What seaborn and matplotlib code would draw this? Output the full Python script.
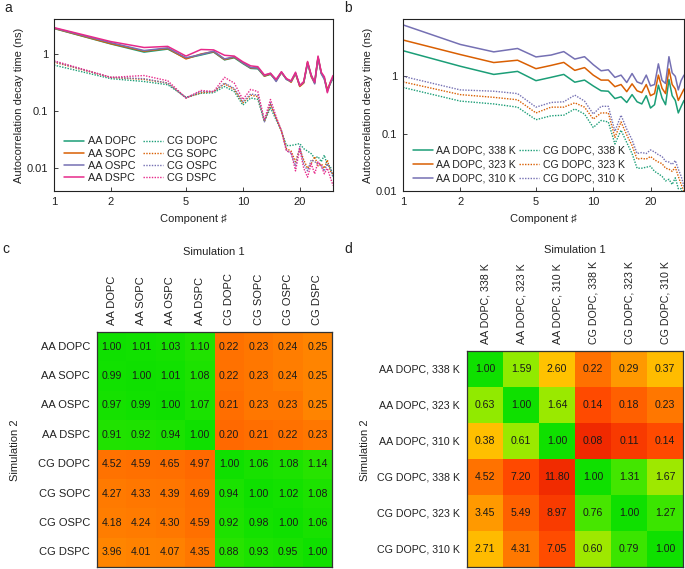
import numpy as np
import pandas as pd
import matplotlib
matplotlib.use("Agg")
import matplotlib.pyplot as plt
from matplotlib.colors import LinearSegmentedColormap
from matplotlib.ticker import NullLocator
import seaborn as sns

# ---------------- data ----------------
components = list(range(1, 31))

aa_dopc = [2.80, 1.50, 1.08, 1.22, 0.84, 0.96, 1.08, 0.79, 0.86, 0.68, 0.56, 0.55, 0.41, 0.44, 0.35,
           0.48, 0.36, 0.33, 0.46, 0.28, 0.32, 0.70, 0.42, 0.32, 0.88, 0.46, 0.38, 0.23, 0.30, 0.38]
aa_sopc = [2.82, 1.52, 1.12, 1.25, 0.82, 1.00, 1.10, 0.80, 0.88, 0.70, 0.57, 0.57, 0.41, 0.45, 0.34,
           0.47, 0.37, 0.32, 0.45, 0.27, 0.31, 0.72, 0.40, 0.31, 0.86, 0.47, 0.37, 0.24, 0.31, 0.39]
aa_ospc = [2.85, 1.58, 1.15, 1.28, 0.86, 0.98, 1.12, 0.82, 0.90, 0.70, 0.58, 0.57, 0.42, 0.46, 0.33,
           0.48, 0.36, 0.33, 0.46, 0.28, 0.32, 0.69, 0.42, 0.30, 0.87, 0.45, 0.36, 0.22, 0.31, 0.38]
aa_dspc = [2.90, 1.65, 1.30, 1.36, 0.92, 1.20, 1.18, 0.95, 0.92, 0.73, 0.62, 0.60, 0.43, 0.46, 0.36,
           0.49, 0.37, 0.34, 0.48, 0.28, 0.33, 0.74, 0.43, 0.32, 0.92, 0.48, 0.40, 0.21, 0.32, 0.42]

cg_dopc = [0.64, 0.37, 0.33, 0.29, 0.175, 0.205, 0.21, 0.27, 0.22, 0.128, 0.17, 0.16, 0.066, 0.115, 0.07,
           0.045, 0.025, 0.025, 0.026, 0.027, 0.022, 0.020, 0.018, 0.015, 0.016, 0.013, 0.017, 0.011, 0.011, 0.007]
cg_sopc = [0.72, 0.39, 0.36, 0.31, 0.17, 0.21, 0.22, 0.30, 0.24, 0.14, 0.19, 0.18, 0.066, 0.13, 0.075,
           0.045, 0.022, 0.020, 0.013, 0.022, 0.014, 0.010, 0.012, 0.016, 0.011, 0.012, 0.010, 0.014, 0.009, 0.008]
cg_ospc = [0.74, 0.39, 0.37, 0.31, 0.17, 0.22, 0.22, 0.31, 0.25, 0.145, 0.20, 0.19, 0.065, 0.14, 0.075,
           0.046, 0.021, 0.018, 0.011, 0.024, 0.012, 0.009, 0.014, 0.013, 0.012, 0.011, 0.009, 0.012, 0.010, 0.007]
cg_dspc = [0.76, 0.39, 0.42, 0.34, 0.17, 0.23, 0.22, 0.39, 0.31, 0.16, 0.24, 0.22, 0.07, 0.16, 0.08,
           0.045, 0.020, 0.019, 0.009, 0.022, 0.010, 0.007, 0.012, 0.008, 0.013, 0.011, 0.008, 0.010, 0.007, 0.005]

aa_338 = aa_dopc
aa_323 = [4.3, 2.4, 1.74, 1.91, 1.36, 1.55, 1.75, 1.27, 1.42, 1.05, 0.86, 0.86, 0.66, 0.72, 0.54,
          0.74, 0.56, 0.52, 0.72, 0.46, 0.50, 1.05, 0.62, 0.50, 1.35, 0.72, 0.60, 0.38, 0.48, 0.60]
aa_310 = [7.9, 3.6, 2.67, 3.06, 2.18, 2.35, 2.70, 2.00, 2.20, 1.60, 1.25, 1.30, 0.96, 1.05, 0.78,
          1.12, 0.80, 0.74, 1.05, 0.68, 0.72, 1.65, 0.85, 0.75, 2.20, 1.15, 1.00, 0.58, 0.85, 1.05]
cg_338 = cg_dopc
cg_323 = [0.80, 0.48, 0.43, 0.39, 0.23, 0.29, 0.29, 0.345, 0.29, 0.18, 0.23, 0.23, 0.086, 0.16, 0.095,
          0.062, 0.036, 0.037, 0.036, 0.040, 0.035, 0.032, 0.030, 0.025, 0.024, 0.022, 0.026, 0.018, 0.013, 0.010]
cg_310 = [1.00, 0.58, 0.55, 0.50, 0.29, 0.35, 0.36, 0.47, 0.37, 0.22, 0.30, 0.30, 0.11, 0.21, 0.12,
          0.078, 0.045, 0.047, 0.045, 0.052, 0.048, 0.043, 0.040, 0.033, 0.032, 0.029, 0.034, 0.024, 0.018, 0.012]

labels_c = ["AA DOPC", "AA SOPC", "AA OSPC", "AA DSPC", "CG DOPC", "CG SOPC", "CG OSPC", "CG DSPC"]
matrix_c = [
    [1.00, 1.01, 1.03, 1.10, 0.22, 0.23, 0.24, 0.25],
    [0.99, 1.00, 1.01, 1.08, 0.22, 0.23, 0.24, 0.25],
    [0.97, 0.99, 1.00, 1.07, 0.21, 0.23, 0.23, 0.25],
    [0.91, 0.92, 0.94, 1.00, 0.20, 0.21, 0.22, 0.23],
    [4.52, 4.59, 4.65, 4.97, 1.00, 1.06, 1.08, 1.14],
    [4.27, 4.33, 4.39, 4.69, 0.94, 1.00, 1.02, 1.08],
    [4.18, 4.24, 4.30, 4.59, 0.92, 0.98, 1.00, 1.06],
    [3.96, 4.01, 4.07, 4.35, 0.88, 0.93, 0.95, 1.00],
]
labels_d = ["AA DOPC, 338 K", "AA DOPC, 323 K", "AA DOPC, 310 K",
            "CG DOPC, 338 K", "CG DOPC, 323 K", "CG DOPC, 310 K"]
matrix_d = [
    [1.00, 1.59, 2.60, 0.22, 0.29, 0.37],
    [0.63, 1.00, 1.64, 0.14, 0.18, 0.23],
    [0.38, 0.61, 1.00, 0.08, 0.11, 0.14],
    [4.52, 7.20, 11.80, 1.00, 1.31, 1.67],
    [3.45, 5.49, 8.97, 0.76, 1.00, 1.27],
    [2.71, 4.31, 7.05, 0.60, 0.79, 1.00],
]

# ---------------- style ----------------
sns.set_style("ticks")
plt.rcParams["font.family"] = ["Liberation Sans", "DejaVu Sans"]
plt.rcParams["font.size"] = 8
plt.rcParams["text.color"] = "#222222"
plt.rcParams["axes.labelcolor"] = "#222222"
plt.rcParams["xtick.color"] = "#222222"
plt.rcParams["ytick.color"] = "#222222"

W, H = 685, 569
fig = plt.figure(figsize=(W / 100, H / 100), dpi=100)


def px_axes(left, top, right, bottom):
    return fig.add_axes([left / W, 1 - bottom / H, (right - left) / W, (bottom - top) / H])


pal = ["#1b9e77", "#d95f02", "#7570b3", "#e7298a"]
dotted = (0, (1, 1))


def style_line_axes(ax, ylim):
    ax.set_xscale("log")
    ax.set_yscale("log")
    ax.set_xlim(1, 30)
    ax.set_ylim(*ylim)
    ax.set_xticks([1, 2, 5, 10, 20])
    ax.set_xticklabels(["1", "2", "5", "10", "20"])
    ax.set_yticks([0.01, 0.1, 1])
    ax.set_yticklabels(["0.01", "0.1", "1"])
    ax.xaxis.set_minor_locator(NullLocator())
    ax.yaxis.set_minor_locator(NullLocator())
    ax.tick_params(direction="in", length=3, width=0.6, labelsize=8, pad=4)
    for s in ax.spines.values():
        s.set_visible(True)
        s.set_linewidth(0.8)
        s.set_color("#222222")
    ax.set_xlabel("Component \u266f", fontsize=8, labelpad=5)
    ax.set_ylabel("Autocorrelation decay time (ns)", fontsize=8, labelpad=2)


# ---------------- panel a ----------------
ax_a = px_axes(54, 19, 333, 191)
aa_series = [("AA DOPC", aa_dopc), ("AA SOPC", aa_sopc), ("AA OSPC", aa_ospc), ("AA DSPC", aa_dspc)]
cg_series = [("CG DOPC", cg_dopc), ("CG SOPC", cg_sopc), ("CG OSPC", cg_ospc), ("CG DSPC", cg_dspc)]
for (name, vals), col in zip(aa_series, pal):
    sns.lineplot(x=components, y=vals, ax=ax_a, color=col, linewidth=1.1, label=name)
for (name, vals), col in zip(cg_series, pal):
    sns.lineplot(x=components, y=vals, ax=ax_a, color=col, linewidth=1.0, linestyle=dotted, label=name)
style_line_axes(ax_a, (0.004, 4.1))
ax_a.legend(ncol=2, loc="lower left", bbox_to_anchor=(0.0, -0.01), frameon=False, fontsize=7.8,
            handlelength=1.9, handletextpad=0.35, columnspacing=0.6, labelspacing=0.2)

# ---------------- panel b ----------------
ax_b = px_axes(403, 19, 684, 191)
b_aa = [("AA DOPC, 338 K", aa_338), ("AA DOPC, 323 K", aa_323), ("AA DOPC, 310 K", aa_310)]
b_cg = [("CG DOPC, 338 K", cg_338), ("CG DOPC, 323 K", cg_323), ("CG DOPC, 310 K", cg_310)]
for (name, vals), col in zip(b_aa, pal):
    sns.lineplot(x=components, y=vals, ax=ax_b, color=col, linewidth=1.1, label=name)
for (name, vals), col in zip(b_cg, pal):
    sns.lineplot(x=components, y=vals, ax=ax_b, color=col, linewidth=1.0, linestyle=dotted, label=name)
style_line_axes(ax_b, (0.01, 10))
ax_b.legend(ncol=2, loc="lower left", bbox_to_anchor=(0.0, -0.01), frameon=False, fontsize=7.6,
            handlelength=1.9, handletextpad=0.35, columnspacing=0.3, labelspacing=0.35)

# ---------------- heatmaps ----------------
cmap = LinearSegmentedColormap.from_list("ratio", [
    (0.00, (0.06, 0.88, 0.00)),
    (0.10, (0.24, 0.90, 0.00)),
    (0.19, (0.59, 0.92, 0.00)),
    (0.38, (1.00, 0.76, 0.00)),
    (0.60, (1.00, 0.45, 0.00)),
    (0.80, (1.00, 0.28, 0.00)),
    (1.00, (0.94, 0.16, 0.00)),
])


def draw_heat(ax, matrix, labels, fs, lab_fs):
    M = np.array(matrix)
    df = pd.DataFrame(np.abs(np.log(M)), index=labels, columns=labels)
    sns.heatmap(df, ax=ax, cmap=cmap, vmin=0, vmax=2.5, annot=M, fmt=".2f", cbar=False,
                annot_kws={"size": fs, "color": "#1a1a1a"})
    ax.xaxis.tick_top()
    ax.set_xticklabels(labels, rotation=90, fontsize=lab_fs)
    ax.set_yticklabels(labels, rotation=0, fontsize=lab_fs)
    ax.tick_params(length=0, pad=5)
    for s in ax.spines.values():
        s.set_visible(True)
        s.set_linewidth(0.9)
        s.set_color("#333333")
    ax.set_xlabel("")
    ax.set_ylabel("")


ax_c = px_axes(97, 332, 332, 567)
draw_heat(ax_c, matrix_c, labels_c, 7.6, 8)
ax_d = px_axes(467, 351, 683, 567)
draw_heat(ax_d, matrix_d, labels_d, 7.6, 7.7)

fig.text(214 / W, 1 - 252 / H, "Simulation 1", ha="center", va="center", fontsize=8)
fig.text(575 / W, 1 - 250 / H, "Simulation 1", ha="center", va="center", fontsize=8)
fig.text(15 / W, 1 - 450 / H, "Simulation 2", ha="center", va="center", rotation=90, fontsize=8)
fig.text(365 / W, 1 - 450 / H, "Simulation 2", ha="center", va="center", rotation=90, fontsize=8)

# panel letters
for x, y, t in [(8, 8, "a"), (348, 8, "b"), (6, 249, "c"), (348, 249, "d")]:
    fig.text(x / W, 1 - y / H, t, ha="center", va="center", fontsize=10)

fig.savefig("out.png", dpi=100)
